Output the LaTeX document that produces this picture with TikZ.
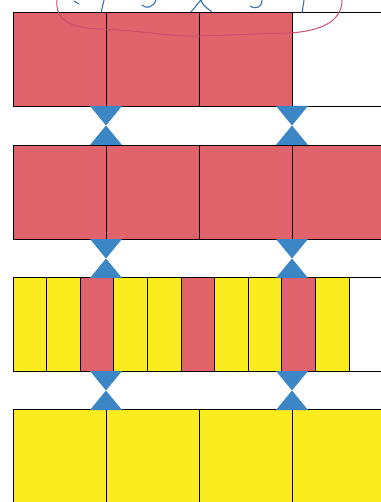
\documentclass[tikz,border=0pt]{standalone}
\usetikzlibrary{positioning}
\definecolor{BarRed}{HTML}{E0636C}
\definecolor{BarYellow}{HTML}{FAEC1E}
\definecolor{TieBlue}{HTML}{3D86C6}
\definecolor{PenBlue}{HTML}{3A6FB8}
\definecolor{PenPink}{HTML}{C9506E}
\tikzset{
  hourglass/.pic={
    \fill[TieBlue] (-16,0) -- (16,0) -- (0,19.5) -- cycle;
    \fill[TieBlue] (-16,39) -- (16,39) -- (0,19.5) -- cycle;
  }
}
\begin{document}
\begin{tikzpicture}[x=1pt,y=-1pt,
      cell/.style={draw=black,line width=0.8pt,minimum width=93pt,
        minimum height=94pt,inner sep=0pt,outer sep=0pt},
      slim/.style={cell,minimum width=33.6pt},
      pen/.style={draw=PenBlue,line width=1.1pt,line cap=round},
      loop/.style={draw=PenPink,line width=1pt,line cap=round}
    ]
    \useasboundingbox (0,0) rectangle (380,502);

    % row 1: three of four
    \node[cell,fill=BarRed,anchor=north west] (a1) at (13,12) {};
    \node[cell,fill=BarRed,right=0pt of a1] (a2) {};
    \node[cell,fill=BarRed,right=0pt of a2] (a3) {};
    \node[cell,fill=white,right=0pt of a3] (a4) {};

    % row 2: four of four
    \node[cell,fill=BarRed,anchor=north west] (b1) at (13,145) {};
    \node[cell,fill=BarRed,right=0pt of b1] (b2) {};
    \node[cell,fill=BarRed,right=0pt of b2] (b3) {};
    \node[cell,fill=BarRed,right=0pt of b3] (b4) {};

    % row 3: thin strips
    \node[slim,fill=BarYellow,anchor=north west] (c1) at (13,277) {};
    \node[slim,fill=BarYellow,right=0pt of c1] (c2) {};
    \node[slim,fill=BarRed,right=0pt of c2] (c3) {};
    \node[slim,fill=BarYellow,right=0pt of c3] (c4) {};
    \node[slim,fill=BarYellow,right=0pt of c4] (c5) {};
    \node[slim,fill=BarRed,right=0pt of c5] (c6) {};
    \node[slim,fill=BarYellow,right=0pt of c6] (c7) {};
    \node[slim,fill=BarYellow,right=0pt of c7] (c8) {};
    \node[slim,fill=BarRed,right=0pt of c8] (c9) {};
    \node[slim,fill=BarYellow,right=0pt of c9] (c10) {};
    \node[cell,fill=white,right=0pt of c10] (c11) {};

    % row 4: yellow
    \node[cell,fill=BarYellow,anchor=north west] (d1) at (13,409) {};
    \node[cell,fill=BarYellow,right=0pt of d1] (d2) {};
    \node[cell,fill=BarYellow,right=0pt of d2] (d3) {};
    \node[cell,fill=BarYellow,right=0pt of d3] (d4) {};

    % hourglasses between rows
    \pic at (a1.south east) {hourglass};
    \pic at (a3.south east) {hourglass};
    \pic at (b1.south east) {hourglass};
    \pic at (b3.south east) {hourglass};
    \pic at (b1.south east |- c1.south) {hourglass};
    \pic at (b3.south east |- c1.south) {hourglass};

    % pen marks at the top
    \draw[loop] (57,0) .. controls (55,20) and (70,28) .. (100,29)
      .. controls (150,31) and (170,37) .. (200,36)
      .. controls (240,35) and (270,33) .. (290,33)
      .. controls (320,31) and (342,22) .. (342,0);
    \draw[pen] (74,1) -- (79,4);
    \draw[pen] (104,0) .. controls (102,6) .. (101,13);
    \draw[pen] (142,5) .. controls (146,9) and (153,8) .. (156,0);
    \draw[pen] (191,12) .. controls (196,6) and (199,2) .. (201,0)
      .. controls (203,5) .. (212,12);
    \draw[pen] (250,6) .. controls (256,10) and (262,7) .. (262,0);
    \draw[pen] (304,0) -- (302,13);
  \end{tikzpicture}
\end{document}
